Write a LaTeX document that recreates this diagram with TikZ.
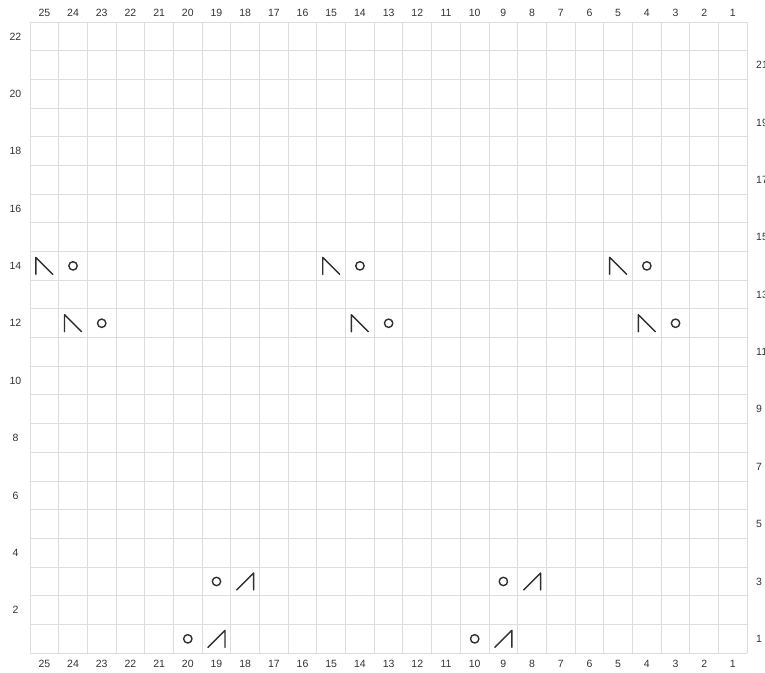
\documentclass[tikz,border=0pt]{standalone}
\usepackage{fontspec}
\setmainfont{Liberation Sans}
\definecolor{gridc}{HTML}{DDDDDD}
\definecolor{symc}{HTML}{303030}
\definecolor{labc}{HTML}{333333}
\begin{document}
\begin{tikzpicture}[x=1pt,y=-1pt,
  gridline/.style={draw=gridc,line width=1pt},
  sym/.style={draw=symc,line width=1.4pt,line join=round,line cap=round},
  lab/.style={text=labc,font=\fontsize{10.5}{12}\selectfont,inner sep=0pt},
  yo/.pic={\draw[sym] (0,0) circle (4.2);},
  sskl/.pic={\draw[sym] (-8.5,8.5) -- (-8.5,-8.5) -- (8.5,8.5);},
  k2tog/.pic={\draw[sym] (-8.5,8.5) -- (8.5,-8.5) -- (8.5,8.5);}
]
\useasboundingbox (0,0) rectangle (765,672);
\clip (0,0) rectangle (765,672);
\fill[white] (0,0) rectangle (765,672);
% grid
\foreach \i in {0,...,25}
  \draw[gridline] ({30+\i*28.69},22) -- ({30+\i*28.69},653.2);
\foreach \j in {0,...,22}
  \draw[gridline] (30,{22+\j*28.69}) -- (747.25,{22+\j*28.69});
% column labels
\foreach \c in {1,...,25} {
  \node[lab] (top\c) at ({30+(25-\c+0.5)*28.69},13) {\c};
  \node[lab] (bot\c) at ({30+(25-\c+0.5)*28.69},664) {\c};
}
% row labels
\foreach \r in {2,4,...,22}
  \node[lab] (left\r) at (15.5,{22+(22-\r+0.5)*28.69}) {\r};
\foreach \r in {1,3,...,21}
  \node[lab,anchor=west] (right\r) at (756,{22+(22-\r+0.5)*28.69}) {\r};
% symbols
\foreach \c/\r/\s in {25/14/sskl,24/14/yo,15/14/sskl,14/14/yo,5/14/sskl,4/14/yo,
  24/12/sskl,23/12/yo,14/12/sskl,13/12/yo,4/12/sskl,3/12/yo,
  19/3/yo,18/3/k2tog,9/3/yo,8/3/k2tog,
  20/1/yo,19/1/k2tog,10/1/yo,9/1/k2tog}
  \pic at ({30+(25-\c+0.5)*28.69},{22+(22-\r+0.5)*28.69}) {\s};
\end{tikzpicture}
\end{document}
